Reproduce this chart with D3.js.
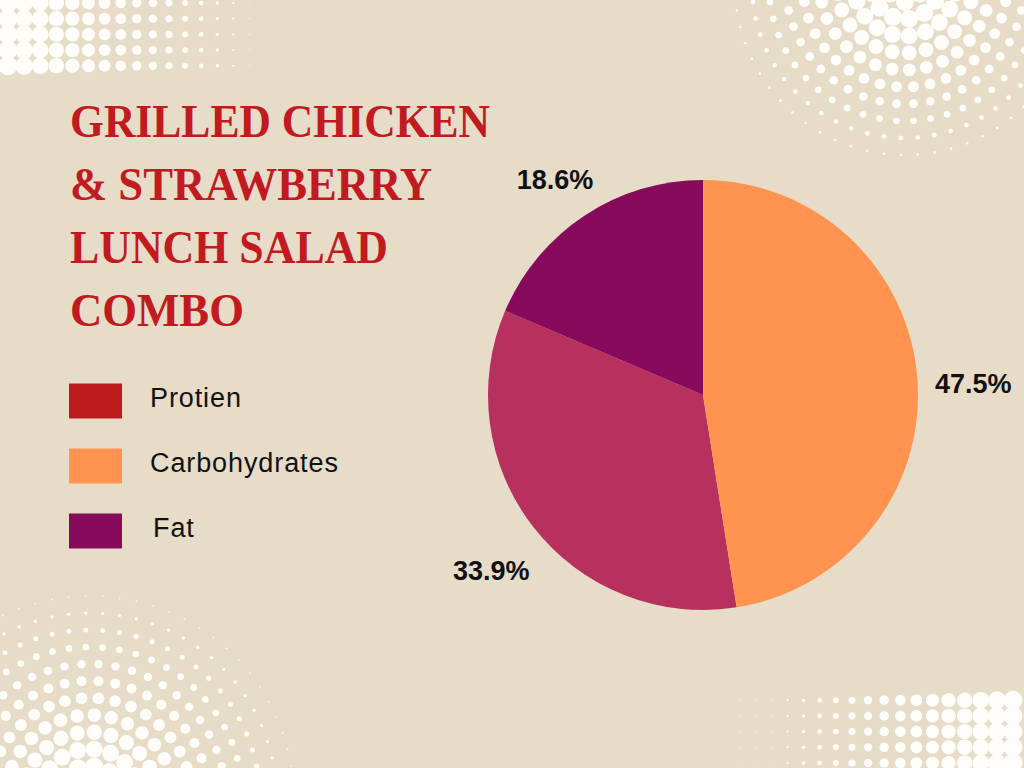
<!DOCTYPE html>
<html><head><meta charset="utf-8">
<script src="https://cdn.jsdelivr.net/npm/d3@7"></script>
<style>html,body{margin:0;padding:0;background:#e6dcc8;}svg{display:block;}</style>
</head><body>
<script>
const titleLines = ["GRILLED CHICKEN","& STRAWBERRY","LUNCH SALAD","COMBO"];
const titleWidths = [420, 362, 318, 174];
const categories = ["Protien","Carbohydrates","Fat"];
const values = [33.9, 47.5, 18.6];
const sliceColors = ["#b8305e","#ff934f","#870a5c"];
const legendColors = ["#bd1a1d","#ff934f","#870a5c"];

const W=1024,H=768;
const svg=d3.select("body").append("svg").attr("width",W).attr("height",H);
svg.append("rect").attr("width",W).attr("height",H).attr("fill","#e6dcc8");

// halftone decorations
const deco=svg.append("g").attr("fill","#fffdf9");
function drawDots(pts){
  deco.selectAll(null).data(pts).enter().append("circle").attr("cx",d=>d[0]).attr("cy",d=>d[1]).attr("r",d=>d[2]);
}
function gridDots(x0,y0,cols,rows,sx,sy,rfn){
  const pts=[];
  for(let i=0;i<cols;i++)for(let j=0;j<rows;j++){const x=x0+i*sx,y=y0+j*sy;const r=rfn(i);if(r>0.3)pts.push([x,y,r]);}
  drawDots(pts);
}
const gridR=i=>Math.max(0.6,9.8-0.037*(8+i*16.1));
gridDots(8,3,16,5,16.1,15.7,gridR);
gridDots(1013,763,18,5,-16.1,-15.7,gridR);
function radialDots(cx,cy,a,b,step){
  const pts=[];const maxD=a/b;
  for(let k=1;k*step<maxD;k++){
    const R=k*step;const n=Math.round(2*Math.PI*R/step);
    for(let m=0;m<n;m++){const ang=m/n*2*Math.PI+(k%2)*Math.PI/n;
      const x=cx+R*Math.cos(ang),y=cy+R*Math.sin(ang);
      if(x<-10||x>W+10||y<-10||y>H+10)continue;
      const r=Math.min(9,a-b*R);if(r>0.5)pts.push([x,y,r]);}
  }
  drawDots(pts);
}
radialDots(905,-15,11.5,0.06,17);
radialDots(90,800,11,0.05,17);

// title
const tg=svg.append("g");
tg.selectAll("text").data(titleLines).enter().append("text")
  .attr("x",70).attr("y",(d,i)=>137+i*63)
  .attr("textLength",(d,i)=>titleWidths[i]).attr("lengthAdjust","spacingAndGlyphs")
  .attr("font-family","'Liberation Serif','DejaVu Serif',serif").attr("font-weight","bold")
  .attr("font-size",47).attr("fill","#c11a1f").text(d=>d);

// legend
const lg=svg.append("g");
const ly=d3.scalePoint().domain(categories).range([401,531]);
lg.selectAll("rect").data(categories).enter().append("rect")
  .attr("x",69).attr("y",d=>ly(d)-17.5).attr("width",53).attr("height",35)
  .attr("fill",(d,i)=>legendColors[i]);
lg.selectAll("text").data(categories).enter().append("text")
  .attr("x",(d,i)=>i===2?153:150).attr("y",d=>ly(d)+6)
  .attr("font-family","'Liberation Sans',Arial,sans-serif").attr("font-size",27).attr("letter-spacing",0.9).attr("fill","#111")
  .text(d=>d);

// pie
const cx=703,cy=395,R=215;
const pie=d3.pie().value(d=>d.v);
const data=categories.map((c,i)=>({c,v:values[i],col:sliceColors[i]}));
const arcs=pie(data);
const arc=d3.arc().innerRadius(0).outerRadius(R);
const lab=d3.arc().innerRadius(270).outerRadius(270);
const pg=svg.append("g").attr("transform",`translate(${cx},${cy})`);
pg.selectAll("path").data(arcs).enter().append("path").attr("d",arc).attr("fill",d=>d.data.col);
pg.selectAll("text").data(arcs).enter().append("text")
  .attr("x",d=>lab.centroid(d)[0]+1).attr("y",d=>lab.centroid(d)[1]+10)
  .attr("text-anchor","middle").attr("dominant-baseline","central")
  .attr("font-family","'Liberation Sans',Arial,sans-serif").attr("font-weight","bold").attr("font-size",27).attr("fill","#111")
  .text(d=>d.data.v.toFixed(1)+"%");
</script>
</body></html>
